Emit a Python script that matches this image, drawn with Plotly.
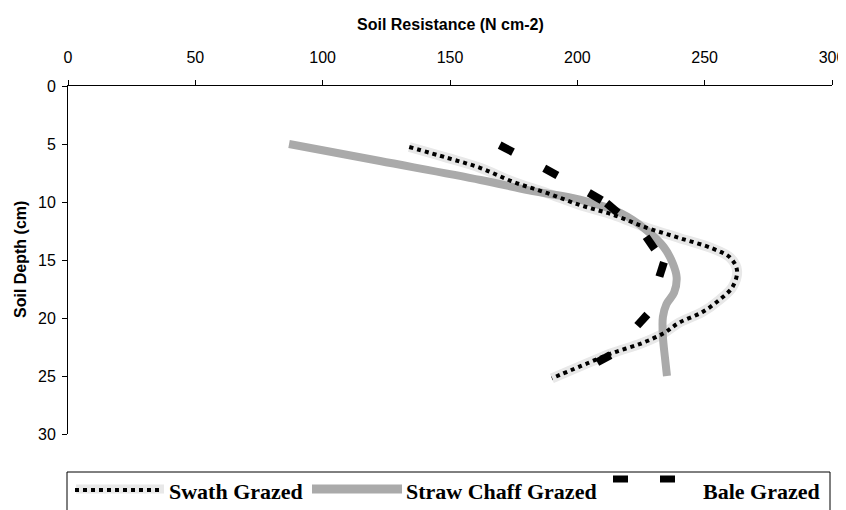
import plotly.graph_objects as go

# ---- data (Soil Resistance, N cm-2, versus Soil Depth, cm) ----
swath_res = [134, 149, 162, 175, 188, 201, 214, 227, 240, 253, 260, 262.7, 261, 256, 249, 240, 234, 225, 214, 204, 190]
swath_depth = [5.26, 6.2, 7.07, 8.28, 9.22, 10.26, 11.1, 12.2, 13.1, 14.0, 14.8, 15.9, 17.3, 18.4, 19.5, 20.4, 21.3, 22.2, 23.0, 23.9, 25.2]

straw_res = [86.8, 122.5, 162, 181, 201, 217, 227, 234, 237.5, 239, 238, 235, 233.6, 233.6, 234.4, 235.2]
straw_depth = [5.0, 6.47, 8.1, 9.0, 9.8, 10.95, 12.4, 13.9, 15.3, 16.5, 17.8, 18.8, 19.9, 21.6, 23.4, 25.0]

bale_res = [169.5, 187, 204.5, 211.5, 227, 234, 227.5, 213, 198]
bale_depth = [5.1, 7.1, 9.2, 10.1, 13.0, 15.2, 19.7, 23.2, 25.0]

x_ticks = [0, 50, 100, 150, 200, 250, 300]
y_ticks = [0, 5, 10, 15, 20, 25, 30]
series_names = ["Swath Grazed", "Straw Chaff Grazed", "Bale Grazed"]
x_title = "Soil Resistance (N cm-2)"
y_title = "Soil Depth (cm)"

# the page body adds an 8 px margin, so the figure is drawn 8 px smaller and positions are
# given in window pixels, minus that offset
OFF = 8
W, H = 846 - OFF, 510 - OFF
L, T = 68 - OFF, 86 - OFF
R, B = W - (832 - OFF), H - (434 - OFF)
pw, ph = W - L - R, H - T - B

GRAY = "#aaaaaa"
SHADE = "#e8e8e8"

fig = go.Figure()

# soft light band under the Swath Grazed line
fig.add_trace(go.Scatter(x=swath_res, y=swath_depth, mode="lines",
                         line=dict(color=SHADE, width=10, shape="spline"),
                         showlegend=False, hoverinfo="skip"))
# Straw Chaff Grazed: thick gray line
fig.add_trace(go.Scatter(x=straw_res, y=straw_depth, mode="lines",
                         line=dict(color=GRAY, width=8, shape="spline"),
                         name=series_names[1], showlegend=False))
# Swath Grazed: dotted black line
fig.add_trace(go.Scatter(x=swath_res, y=swath_depth, mode="lines",
                         line=dict(color="black", width=4, shape="spline", dash="4px,4px"),
                         name=series_names[0], showlegend=False))
# Bale Grazed: a short heavy dash at the start of each segment
for i in range(len(bale_res) - 1):
    fig.add_trace(go.Scatter(x=bale_res[i:i + 2], y=bale_depth[i:i + 2], mode="lines",
                             line=dict(color="black", width=8, dash="15px,3000px"),
                             name=series_names[2], showlegend=False))


def px(xs):
    return (xs - OFF - L) / pw


def py(ys):
    return (H - B - (ys - OFF)) / ph


# custom legend (Excel style, box cut by the bottom edge)
shapes = [
    dict(type="rect", xref="paper", yref="paper", x0=px(67), x1=px(830), y0=py(540), y1=py(472),
         line=dict(color="black", width=1), fillcolor="rgba(0,0,0,0)"),
    dict(type="line", xref="paper", yref="paper", x0=px(76), x1=px(164), y0=py(489), y1=py(489),
         line=dict(color=SHADE, width=9)),
    dict(type="line", xref="paper", yref="paper", x0=px(75), x1=px(163), y0=py(490), y1=py(490),
         line=dict(color="black", width=4, dash="4px,4px")),
    dict(type="line", xref="paper", yref="paper", x0=px(312), x1=px(402), y0=py(489), y1=py(489),
         line=dict(color=GRAY, width=9)),
    dict(type="line", xref="paper", yref="paper", x0=px(613), x1=px(675), y0=py(479), y1=py(479),
         line=dict(color="black", width=7, dash="15px,32px")),
]
legend_font = dict(family="Liberation Serif", size=22, color="black")
title_font = dict(family="Liberation Sans", size=16, color="black")
annotations = [
    dict(xref="paper", yref="paper", x=px(167), y=py(491), text="<b>" + series_names[0] + "</b>",
         showarrow=False, xanchor="left", yanchor="middle", font=legend_font),
    dict(xref="paper", yref="paper", x=px(404), y=py(491), text="<b>" + series_names[1] + "</b>",
         showarrow=False, xanchor="left", yanchor="middle", font=legend_font),
    dict(xref="paper", yref="paper", x=px(701), y=py(491), text="<b>" + series_names[2] + "</b>",
         showarrow=False, xanchor="left", yanchor="middle", font=legend_font),
    dict(xref="paper", yref="paper", x=0.5, y=py(24), text="<b>" + x_title + "</b>",
         showarrow=False, xanchor="center", yanchor="middle", font=title_font),
    dict(xref="paper", yref="paper", x=px(20), y=0.5, text="<b>" + y_title + "</b>",
         showarrow=False, xanchor="center", yanchor="middle", textangle=-90, font=title_font),
]

fig.update_layout(
    width=W, height=H,
    margin=dict(l=L, r=R, t=T, b=B, pad=0),
    paper_bgcolor="white", plot_bgcolor="white",
    font=dict(family="Liberation Sans", size=16, color="black"),
    shapes=shapes, annotations=annotations,
    showlegend=False,
    xaxis=dict(side="top", range=[0, 300], tickvals=x_ticks, ticks="outside", ticklen=5,
               tickcolor="black", showline=True, linecolor="black", linewidth=1,
               showgrid=False, zeroline=False, automargin=False,
               ticklabelstandoff=11, ticklabeloverflow="allow"),
    yaxis=dict(range=[30, 0], tickvals=y_ticks, ticks="outside", ticklen=5,
               tickcolor="black", showline=True, linecolor="black", linewidth=1,
               showgrid=False, zeroline=False, automargin=False,
               ticklabelstandoff=3, ticklabeloverflow="allow"),
)

fig.write_html("out.html")
